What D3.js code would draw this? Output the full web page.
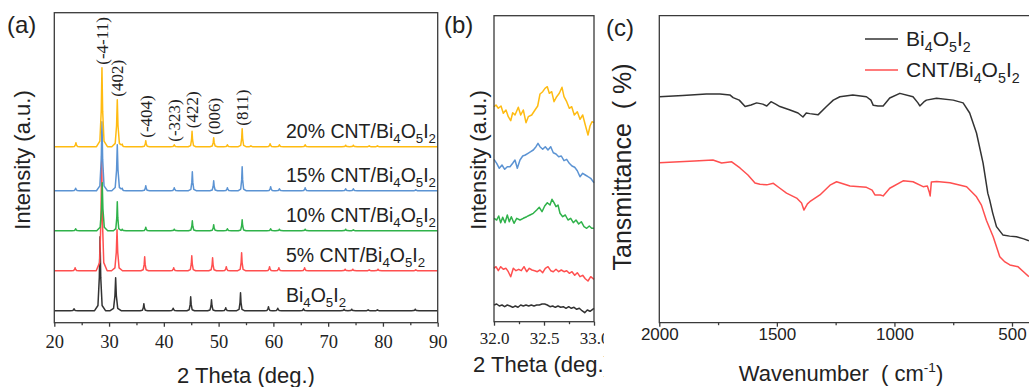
<!DOCTYPE html>
<html>
<head>
<meta charset="utf-8">
<script src="https://cdn.jsdelivr.net/npm/d3@7"></script>
<style>
  body { margin: 0; background: #fff; }
  svg { display: block; }
</style>
</head>
<body>
<svg id="fig" width="1029" height="387"></svg>
<script>
// ---------- data: (a) XRD peaks, [2theta, height] ----------
const xrdNames = ["Bi_4O_5I_2", "5% CNT/Bi_4O_5I_2", "10% CNT/Bi_4O_5I_2", "15% CNT/Bi_4O_5I_2", "20% CNT/Bi_4O_5I_2"];
const xrdColors = ["#333333", "#ff4f4f", "#2fb24a", "#5b93d3", "#ffbb11"];
const xrdOffsets = [0, 40, 80, 120, 164];

const peaksBi4o5i2 = [[23.6, 2], [28.35, 74], [31.2, 33], [36.35, 7], [41.7, 2.5], [44.9, 14], [48.7, 11],
  [51.3, 3], [54.0, 18], [59.1, 4], [60.8, 2.5], [65.5, 2], [72.9, 1.5], [74.3, 1.5], [77.3, 1], [79.0, 1], [85.9, 1.5]];
const peaksCnt5 = [[23.8, 3], [28.65, 115], [31.45, 41], [36.5, 14], [41.8, 3], [45.1, 15], [48.9, 13],
  [51.4, 4], [54.2, 18], [59.3, 4], [61.0, 3], [65.7, 3], [73.1, 1.5], [74.5, 1.5], [77.5, 1], [79.1, 1.5], [86.0, 1]];
const peaksCnt10 = [[23.9, 2], [28.75, 48], [31.5, 29], [32.4, 1.5], [36.7, 3.5], [41.9, 1.5], [45.2, 10], [49.1, 6],
  [51.6, 2], [54.3, 11], [59.5, 2], [61.1, 1.5], [65.8, 1.5], [73.2, 1.5], [74.6, 1]];
const peaksCnt15 = [[23.9, 2.5], [28.7, 69], [31.5, 46], [32.4, 2], [36.7, 5], [41.9, 3], [45.2, 19], [49.1, 10],
  [51.6, 3], [54.3, 24], [59.5, 4], [61.1, 2], [65.8, 3], [73.2, 2], [74.6, 2], [86.0, 1]];
const peaksCnt20 = [[23.95, 4], [28.7, 79], [31.5, 47], [32.4, 2], [36.7, 6], [41.9, 2], [45.15, 15.5], [49.1, 9],
  [51.6, 2], [54.3, 18], [55.9, 1], [59.4, 3], [61.1, 2], [65.8, 2], [73.2, 1.5], [74.6, 1.5], [77.5, 1], [79.0, 1]];
const xrdPeaks = [peaksBi4o5i2, peaksCnt5, peaksCnt10, peaksCnt15, peaksCnt20];

const hklLabels = ["(-4-11)", "(402)", "(-404)", "(-323)", "(422)", "(006)", "(811)"];
const hklTheta = [28.7, 31.5, 36.7, 41.9, 45.15, 49.1, 54.3];

// ---------- data: (b) zoom 32-33 deg, [2theta, intensity] ----------
const zoomBi4o5i2 = [[32.000,16],[32.027,17],[32.053,15],[32.080,16],[32.107,14.3],[32.133,16],[32.160,15],[32.187,13.7],
  [32.213,15],[32.240,13.7],[32.267,16],[32.293,15],[32.320,16],[32.347,15],[32.373,16],[32.400,15],[32.427,16],
  [32.453,16],[32.480,17],[32.507,17],[32.533,16],[32.560,14.3],[32.587,15],[32.613,13.7],[32.640,15],[32.667,13.7],
  [32.693,14.3],[32.720,12.7],[32.747,14.3],[32.773,12.7],[32.800,13.7],[32.827,11.7],[32.853,12.7],[32.880,10.3],
  [32.907,8.3],[32.933,11],[32.960,9.7],[33.000,12.7]];
const zoomCnt5 = [[32.000,52.7],[32.020,54.3],[32.043,50.3],[32.067,54.3],[32.093,51.7],[32.120,52.7],[32.143,49.3],
  [32.167,44.3],[32.193,52.7],[32.220,50.3],[32.247,51.7],[32.273,50.3],[32.300,54.3],[32.327,49.3],[32.353,52.7],
  [32.380,51],[32.407,50.3],[32.433,49.3],[32.460,51],[32.487,48.3],[32.513,52.7],[32.540,54.3],[32.567,50.3],
  [32.593,49.3],[32.620,51.7],[32.647,49.3],[32.673,51],[32.700,49.3],[32.727,50.3],[32.753,47.7],[32.780,49.3],
  [32.807,45.7],[32.833,48.3],[32.860,44.3],[32.887,45.7],[32.913,42.3],[32.940,40],[32.967,44.3],[33.000,41.7]];
const zoomCnt10 = [[32.000,102.7],[32.027,101],[32.047,105],[32.067,98.3],[32.087,103.7],[32.110,98.3],[32.133,106],
  [32.153,99.3],[32.173,104.3],[32.200,97.7],[32.227,102.7],[32.260,101],[32.293,102.7],[32.327,104.3],[32.360,106],
  [32.393,107.7],[32.427,111],[32.453,113.7],[32.480,109.3],[32.507,115],[32.533,118.3],[32.560,116],[32.580,121.7],
  [32.600,118.3],[32.620,114.3],[32.640,116],[32.660,107.7],[32.687,104.3],[32.713,106],[32.740,101],[32.767,102.7],
  [32.793,98.3],[32.820,101],[32.847,97],[32.873,99.3],[32.900,94.3],[32.927,92.7],[32.953,95],[32.977,92.7],[33.000,92.7]];
const zoomCnt15 = [[32.000,161.7],[32.027,157.7],[32.053,152.7],[32.080,156],[32.107,151.7],[32.133,154.3],[32.160,154.3],
  [32.187,157.7],[32.210,161],[32.233,152.7],[32.260,161],[32.287,165],[32.313,166],[32.340,167.7],[32.367,169.3],
  [32.393,171],[32.420,174.3],[32.440,177.7],[32.460,174.3],[32.487,171.7],[32.513,174.3],[32.540,171],[32.567,174.3],
  [32.593,168.3],[32.620,167],[32.647,164.3],[32.673,165],[32.700,160.3],[32.727,161.7],[32.753,157.7],[32.780,155],
  [32.807,153.7],[32.833,150.3],[32.860,144.3],[32.887,147.7],[32.913,146],[32.940,144.3],[32.967,142.7],[33.000,138.3]];
const zoomCnt20 = [[32.000,214.3],[32.020,216],[32.043,212.7],[32.070,215],[32.093,207.7],[32.120,211],[32.143,204.3],
  [32.167,200.3],[32.187,208.3],[32.210,206],[32.243,213.7],[32.267,206],[32.293,211],[32.320,198.3],[32.343,204.3],
  [32.377,206],[32.410,211],[32.437,215],[32.460,227],[32.487,229.3],[32.510,232.7],[32.533,234.3],[32.553,227.7],
  [32.577,229.3],[32.600,219.3],[32.627,224.3],[32.653,227.7],[32.680,233.7],[32.700,224.3],[32.727,219.3],
  [32.753,212.7],[32.777,214.3],[32.803,206],[32.833,209.3],[32.860,201.7],[32.887,206],[32.913,196],[32.940,186],
  [32.960,195],[32.980,199.3],[33.000,198.3]];
const zoomSeries = [zoomBi4o5i2, zoomCnt5, zoomCnt10, zoomCnt15, zoomCnt20];

// ---------- data: (c) FTIR, [wavenumber, transmittance] ----------
const ftirNames = ["Bi_4O_5I_2", "CNT/Bi_4O_5I_2"];
const ftirColors = ["#333333", "#ff4f4f"];
const ftirBi4o5i2 = [[2000,73.6],[1900,74.0],[1800,74.5],[1742,74.5],[1700,74.2],[1686,73.3],[1660,72.5],[1635,70.4],
  [1610,70.9],[1586,71.6],[1560,71.2],[1543,70.6],[1525,72.0],[1505,71.2],[1487,70.4],[1444,69.3],[1410,68.3],
  [1389,67.0],[1375,68.3],[1360,68.1],[1325,67.7],[1289,70.4],[1260,72.5],[1232,73.6],[1177,74.2],[1119,73.6],
  [1100,72.5],[1090,70.8],[1070,70.6],[1048,70.6],[1020,73.2],[977,74.7],[921,73.6],[900,71.6],[892,70.6],[875,71.9],
  [864,72.5],[821,73.1],[750,72.5],[708,71.6],[680,68.3],[651,61.8],[623,52.0],[603,42.2],[595,40.0],[582,35.7],
  [566,31.3],[539,28.6],[510,28.2],[481,28.0],[450,27.3],[428,26.7]];
const ftirCnt = [[2000,52.1],[1850,52.7],[1772,53.0],[1735,52.0],[1692,52.4],[1657,50.4],[1623,48.1],[1593,45.5],
  [1572,45.1],[1543,44.9],[1515,45.4],[1487,43.8],[1459,42.2],[1416,40.6],[1395,39.0],[1385,36.7],[1370,38.7],
  [1360,39.4],[1317,41.6],[1274,44.8],[1246,45.9],[1189,44.5],[1119,44.1],[1095,43.2],[1083,41.6],[1060,41.6],
  [1048,41.3],[1020,43.8],[963,46.2],[921,45.9],[878,44.3],[860,44.5],[852,42.6],[848,41.3],[843,45.8],[820,46.0],
  [764,45.6],[693,44.3],[651,41.0],[630,38.3],[609,33.4],[580,28.0],[552,21.5],[530,19.8],[509,18.8],[474,18.2],
  [450,16.5],[428,15.0]];
const ftirSeries = [ftirBi4o5i2, ftirCnt];

// ---------- helpers ----------
const sans = "'Liberation Sans', Arial, sans-serif";
const serif = "'Times New Roman', 'Liberation Serif', serif";
const frameColor = "#3a3a3a";

// "_x" -> subscript, "^-1" -> superscript
function richText(sel, s, fs) {
  const parts = s.split(/(_[^_^]|\^-?\d+)/).filter(p => p !== "");
  let shift = 0;
  parts.forEach(p => {
    let dy = 0, size = null, t = p;
    if (p[0] === "_") { t = p.slice(1); dy = 0.28 * fs; size = 0.68 * fs; }
    else if (p[0] === "^") { t = p.slice(1); dy = -0.42 * fs; size = 0.62 * fs; }
    const ts = sel.append("tspan").text(t).attr("dy", dy - shift);
    if (size) ts.attr("font-size", size);
    shift = dy;
  });
}

// piecewise-linear peak shape: sharp tip with a low, wider foot
const tipFrac = [[-1.0, 0], [-0.38, 0.07], [-0.13, 0.45], [0, 1], [0.13, 0.45], [0.38, 0.07], [1.0, 0]];
function peakAt(x, p, h) {
  const s = h > 30 ? 1 : 0.7;
  for (let k = 0; k < tipFrac.length - 1; k++) {
    const x0 = p + tipFrac[k][0] * s, x1 = p + tipFrac[k + 1][0] * s;
    if (x >= x0 && x <= x1) {
      const f = (x - x0) / (x1 - x0);
      return h * (tipFrac[k][1] + f * (tipFrac[k + 1][1] - tipFrac[k][1]));
    }
  }
  return 0;
}
function peakProfile(peaks, lo, hi) {
  let xs = [lo, hi];
  peaks.forEach(([p, h]) => {
    const s = h > 30 ? 1 : 0.7;
    tipFrac.forEach(([dx]) => xs.push(p + dx * s));
  });
  xs = Array.from(new Set(xs)).filter(x => x >= lo && x <= hi).sort((a, b) => a - b);
  return xs.map(x => [x, d3.sum(peaks, ([p, h]) => peakAt(x, p, h))]);
}

function styleAxis(g, font, size) {
  g.select(".domain").remove();
  g.attr("font-family", null).attr("font-size", null);
  g.selectAll("line").attr("stroke", frameColor).attr("stroke-width", 1.3);
  g.selectAll("text").attr("fill", "#222").attr("font-family", font).attr("font-size", size);
}

const svg = d3.select("#fig");
svg.append("rect").attr("width", 1029).attr("height", 387).attr("fill", "#fff");

// ================= panel (a) =================
const xA = d3.scaleLinear().domain([20, 90]).range([54.3, 437.7]);
const yA = d3.scaleLinear().domain([-12, 298]).range([322.7, 12.7]);

svg.append("clipPath").attr("id", "clipA").append("rect")
  .attr("x", 54.3).attr("y", 12.7).attr("width", 383.4).attr("height", 310);

const lineA = (off) => d3.line().x(d => xA(d[0])).y(d => yA(d[1] + off));

const gA = svg.append("g");
gA.append("g").attr("clip-path", "url(#clipA)")
  .selectAll("path")
  .data(xrdPeaks)
  .join("path")
  .attr("d", (pk, i) => lineA(xrdOffsets[i])(peakProfile(pk, 20, 90)))
  .attr("fill", "none")
  .attr("stroke", (d, i) => xrdColors[i])
  .attr("stroke-width", 1.5)
  .attr("stroke-linejoin", "round");

gA.append("rect")
  .attr("x", 54.3).attr("y", 12.7).attr("width", 383.4).attr("height", 310)
  .attr("fill", "none").attr("stroke", frameColor).attr("stroke-width", 1.3);

gA.append("g").attr("transform", "translate(0,322.7)")
  .call(d3.axisBottom(xA).tickValues(d3.range(20, 91, 10)).tickSize(4).tickSizeOuter(0).tickPadding(8))
  .call(g => styleAxis(g, serif, 18.5));
gA.append("g").attr("transform", "translate(0,322.7)")
  .call(d3.axisBottom(xA).tickValues(d3.range(25, 90, 10)).tickSize(2.5).tickSizeOuter(0).tickFormat(""))
  .call(g => styleAxis(g, serif, 18.5));

// series labels
xrdNames.forEach((name, i) => {
  const t = gA.append("text")
    .attr("x", xA(62.3)).attr("y", yA(xrdOffsets[i]) - 9)
    .attr("font-family", sans).attr("font-size", 19.5).attr("fill", "#222");
  richText(t, name, 19.5);
});

// hkl labels above the 20% pattern
hklLabels.forEach((lab, i) => {
  const th = hklTheta[i];
  const pk = peaksCnt20.reduce((a, b) => Math.abs(b[0] - th) < Math.abs(a[0] - th) ? b : a);
  const y = yA(xrdOffsets[4] + pk[1]) - 3;
  gA.append("text")
    .attr("transform", `translate(${xA(th) + 0.5},${y}) rotate(-90)`)
    .attr("dominant-baseline", "central")
    .attr("font-family", serif).attr("font-size", 17).attr("fill", "#222")
    .text(lab);
});

gA.append("text").attr("x", 246).attr("y", 383).attr("text-anchor", "middle")
  .attr("font-family", sans).attr("font-size", 22).attr("fill", "#222").text("2 Theta (deg.)");
gA.append("text").attr("transform", "translate(30,160) rotate(-90)").attr("text-anchor", "middle")
  .attr("font-family", sans).attr("font-size", 22).attr("fill", "#222").text("Intensity (a.u.)");
gA.append("text").attr("x", 7).attr("y", 33)
  .attr("font-family", sans).attr("font-size", 24).attr("fill", "#222").text("(a)");

// ================= panel (b) =================
const xB = d3.scaleLinear().domain([32, 33]).range([494, 594]);
const yB = d3.scaleLinear().domain([0, 305]).range([321, 16]);
const lineB = d3.line().x(d => xB(d[0])).y(d => yB(d[1]));

const gB = svg.append("g");
gB.selectAll("path.zoom")
  .data(zoomSeries)
  .join("path")
  .attr("class", "zoom")
  .attr("d", d => lineB(d))
  .attr("fill", "none")
  .attr("stroke", (d, i) => xrdColors[i])
  .attr("stroke-width", 1.5)
  .attr("stroke-linejoin", "round");

gB.append("rect")
  .attr("x", 494).attr("y", 15.7).attr("width", 100).attr("height", 306)
  .attr("fill", "none").attr("stroke", frameColor).attr("stroke-width", 1.3);

gB.append("g").attr("transform", "translate(0,321.7)")
  .call(d3.axisBottom(xB).tickValues([32, 32.5, 33]).tickFormat(d3.format(".1f")).tickSize(4).tickSizeOuter(0).tickPadding(6.5))
  .call(g => styleAxis(g, serif, 17));
gB.append("g").attr("transform", "translate(0,321.7)")
  .call(d3.axisBottom(xB).tickValues([32.25, 32.75]).tickSize(2.5).tickSizeOuter(0).tickFormat(""))
  .call(g => styleAxis(g, serif, 17));

gB.append("text").attr("x", 542).attr("y", 372).attr("text-anchor", "middle")
  .attr("font-family", sans).attr("font-size", 22).attr("fill", "#222").text("2 Theta (deg.)");
gB.append("text").attr("transform", "translate(486,160) rotate(-90)").attr("text-anchor", "middle")
  .attr("font-family", sans).attr("font-size", 22).attr("fill", "#222").text("Intensity (a.u.)");
gB.append("text").attr("x", 444).attr("y", 33)
  .attr("font-family", sans).attr("font-size", 24).attr("fill", "#222").text("(b)");

// ================= panel (c) =================
// white backing: panel (c) covers the overflow of panel (b) texts
const gC = svg.append("g");
gC.append("rect").attr("x", 604).attr("y", 0).attr("width", 425).attr("height", 387).attr("fill", "#fff");

const xC = d3.scaleLinear().domain([2000, 500]).range([659.3, 1012]);
const yC = d3.scaleLinear().domain([0, 100]).range([322.7, 15.7]);
const lineC = d3.line().x(d => xC(d[0])).y(d => yC(d[1]));

gC.selectAll("path.ftir")
  .data(ftirSeries)
  .join("path")
  .attr("class", "ftir")
  .attr("d", d => lineC(d))
  .attr("fill", "none")
  .attr("stroke", (d, i) => ftirColors[i])
  .attr("stroke-width", 1.5)
  .attr("stroke-linejoin", "round");

gC.append("path")
  .attr("d", "M1029,15.7H659.3V322.7H1029")
  .attr("fill", "none").attr("stroke", frameColor).attr("stroke-width", 1.3);

gC.append("g").attr("transform", "translate(0,322.7)")
  .call(d3.axisBottom(xC).tickValues([2000, 1500, 1000, 500]).tickFormat(d3.format("d")).tickSize(4).tickSizeOuter(0).tickPadding(1))
  .call(g => styleAxis(g, sans, 17));
gC.append("g").attr("transform", "translate(0,322.7)")
  .call(d3.axisBottom(xC).tickValues([1750, 1250, 750]).tickSize(2.5).tickSizeOuter(0).tickFormat(""))
  .call(g => styleAxis(g, sans, 17));

// legend
ftirNames.forEach((name, i) => {
  const y = 39 + i * 31;
  gC.append("line").attr("x1", 865).attr("x2", 898).attr("y1", y).attr("y2", y)
    .attr("stroke", ftirColors[i]).attr("stroke-width", 1.5);
  const t = gC.append("text").attr("x", 906).attr("y", y + 7)
    .attr("font-family", sans).attr("font-size", 21).attr("fill", "#222");
  richText(t, name, 21);
});

const xt = gC.append("text").attr("x", 841).attr("y", 381).attr("text-anchor", "middle")
  .attr("xml:space", "preserve")
  .attr("font-family", sans).attr("font-size", 22).attr("fill", "#222");
richText(xt, "Wavenumber  ( cm^-1)", 22);
gC.append("text").attr("transform", "translate(631,167) rotate(-90)").attr("text-anchor", "middle")
  .attr("xml:space", "preserve")
  .attr("font-family", sans).attr("font-size", 25).attr("fill", "#222").text("Tansmittance  ( %)");
gC.append("text").attr("x", 606).attr("y", 36)
  .attr("font-family", sans).attr("font-size", 24).attr("fill", "#222").text("(c)");
</script>
</body>
</html>
